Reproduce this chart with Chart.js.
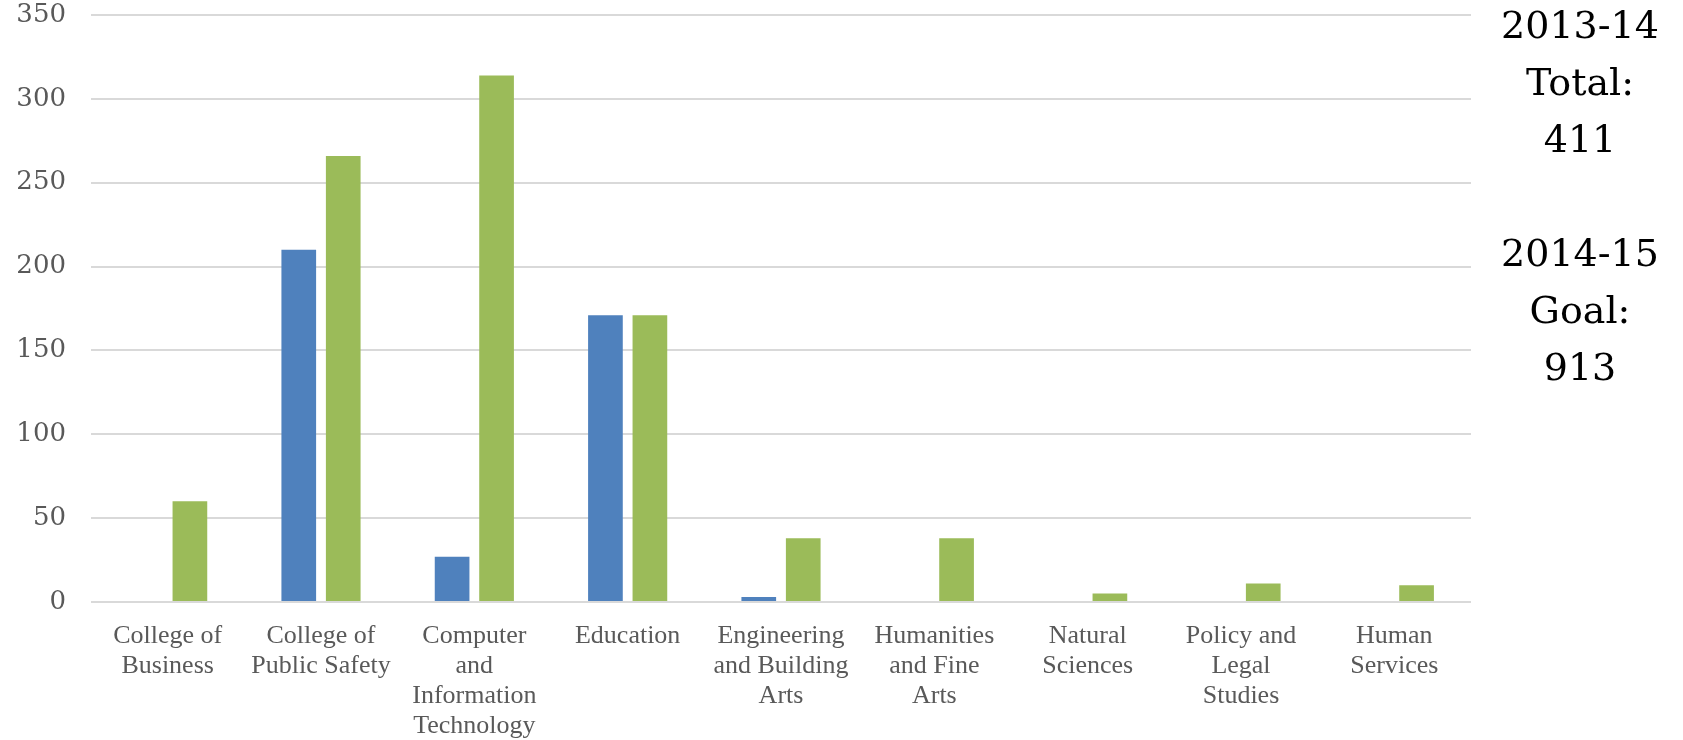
<!DOCTYPE html>
<html>
<head>
<meta charset="utf-8">
<script src="https://cdn.jsdelivr.net/npm/chart.js@4/dist/chart.umd.min.js"></script>
<style>
    html, body { margin: 0; padding: 0; background: #fff; }
    #wrap { position: relative; width: 1683px; height: 740px; }
    #note {
        position: absolute;
        left: 1480px;
        top: -3px;
        width: 200px;
        text-align: center;
        font-family: "DejaVu Serif", serif;
        font-size: 38px;
        line-height: 57px;
        color: #000;
    }
</style>
</head>
<body>
<div id="wrap">
    <canvas id="barChart" width="1683" height="740"></canvas>
    <div id="note"></div>
</div>
<script>
// データ
const categories = [
    ["College of", "Business"],
    ["College of", "Public Safety"],
    ["Computer", "and", "Information", "Technology"],
    ["Education"],
    ["Engineering", "and Building", "Arts"],
    ["Humanities", "and Fine", "Arts"],
    ["Natural", "Sciences"],
    ["Policy and", "Legal", "Studies"],
    ["Human", "Services"],
];
const series2013 = [0, 210, 27, 171, 3, 0, 0, 0, 0];
const series2014 = [60, 266, 314, 171, 38, 38, 5, 11, 10];
const yTicks = [0, 50, 100, 150, 200, 250, 300, 350];
const noteLines = ["2013-14", "Total:", "411", "", "2014-15", "Goal:", "913"];

// 右側の注記
document.getElementById("note").innerHTML = noteLines
    .map((line) => (line === "" ? "&nbsp;" : line))
    .join("<br>");

document.addEventListener("DOMContentLoaded", () => {
    const ctx = document.getElementById("barChart").getContext("2d");
    new Chart(ctx, {
        type: "bar",
        data: {
            labels: categories,
            datasets: [
                {
                    label: "2013-14",
                    data: series2013,
                    backgroundColor: "#4F81BD",
                    categoryPercentage: 0.58,
                    barPercentage: 0.78,
                },
                {
                    label: "2014-15",
                    data: series2014,
                    backgroundColor: "#9BBB59",
                    categoryPercentage: 0.58,
                    barPercentage: 0.78,
                },
            ],
        },
        options: {
            responsive: false,
            animation: false,
            layout: {
                padding: { top: 15, right: 212, left: 0, bottom: 0 },
            },
            plugins: {
                legend: { display: false },
                tooltip: { enabled: false },
            },
            scales: {
                x: {
                    grid: { display: false },
                    border: { display: false },
                    ticks: {
                        color: "#595959",
                        padding: 11,
                        maxRotation: 0,
                        autoSkip: false,
                        font: { family: "Liberation Serif", size: 26, lineHeight: 1.16 },
                    },
                    afterFit: (scale) => {
                        scale.height = 138;
                        scale.paddingTop = 0;
                        scale.paddingBottom = 0;
                    },
                },
                y: {
                    min: 0,
                    max: 350,
                    afterBuildTicks: (scale) => {
                        scale.ticks = yTicks.map((v) => ({ value: v }));
                    },
                    grid: {
                        color: "#D9D9D9",
                        lineWidth: 2,
                        drawTicks: false,
                    },
                    border: { display: false },
                    ticks: {
                        color: "#595959",
                        padding: 25,
                        font: { family: "DejaVu Serif", size: 26 },
                    },
                    afterFit: (scale) => {
                        scale.width = 91;
                        scale.paddingTop = 0;
                        scale.paddingBottom = 0;
                    },
                },
            },
        },
    });
});
</script>
</body>
</html>
